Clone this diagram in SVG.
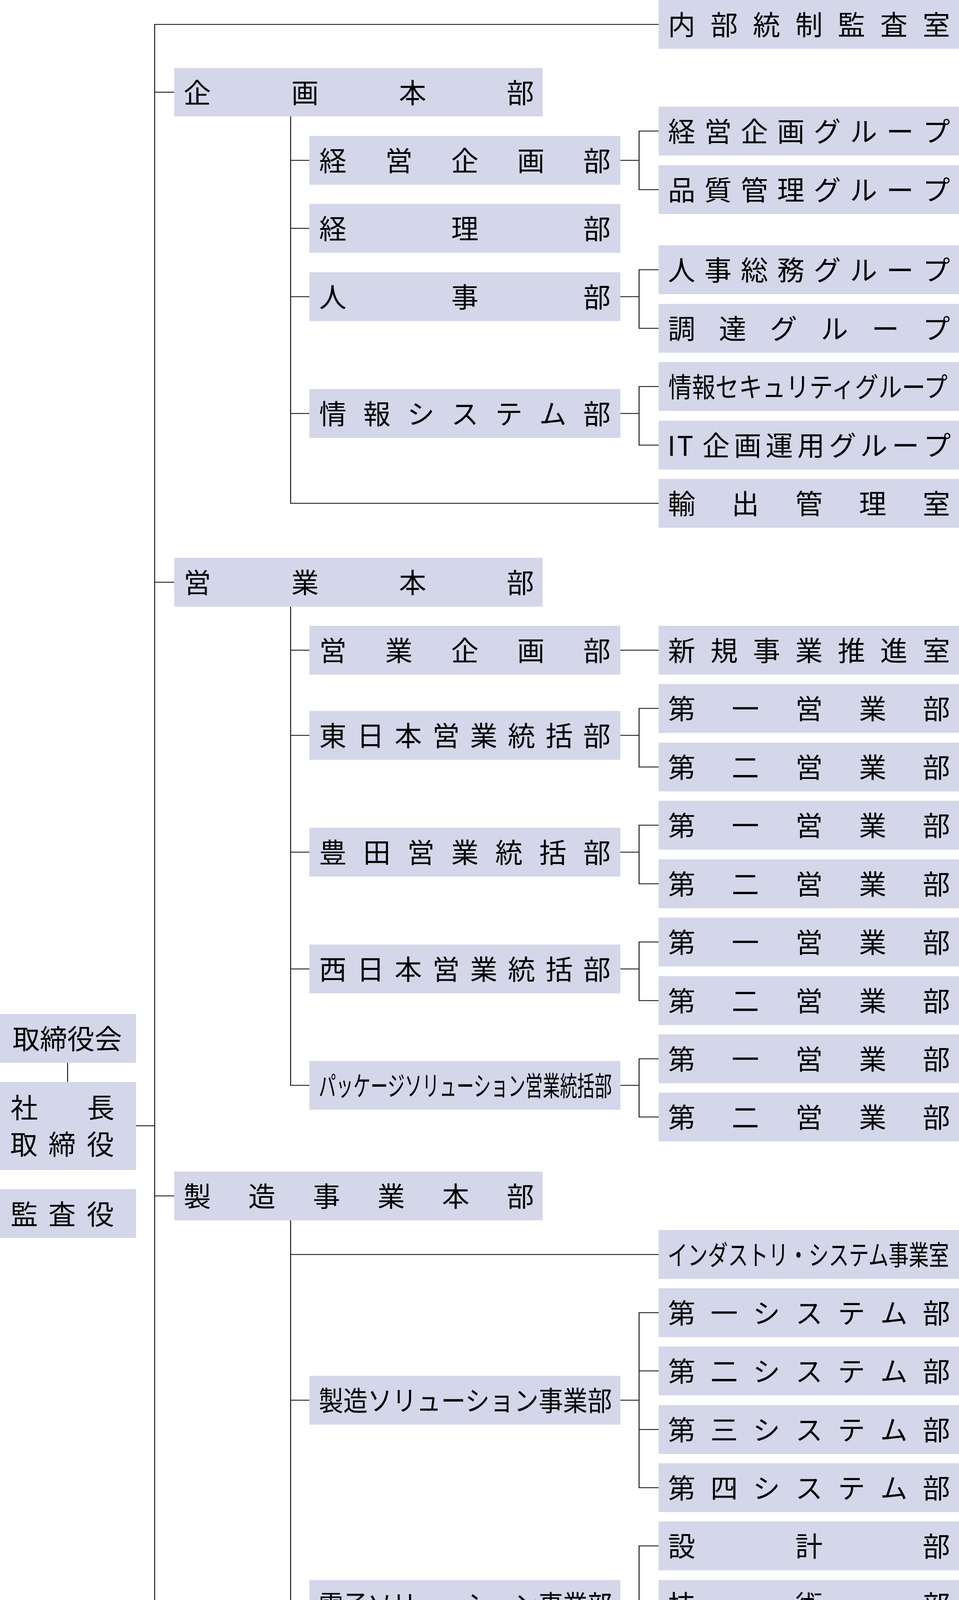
<svg xmlns="http://www.w3.org/2000/svg" width="2455" height="5766" viewBox="0 0 2455 5766">
<style>
.b{fill:#d4d6e9}
.t{font-family:"Noto Sans CJK JP","Noto Sans CJK SC",sans-serif;font-size:70px;fill:#000}
.m{text-anchor:middle}
.c{fill:none;stroke:#000;stroke-width:2.2}
</style>
<rect width="2455" height="5766" fill="#fff"/>
<g id="connectors" class="c">
<path d="M1686,62.5H396V5554.5H792M396,236H446M396,1490.5H446M348,2882H396M396,3061.5H446M396,4458H446M173,2721V2770"/>
<path d="M744,298V1288.5H1686M744,410.5H792M744,584.5H792M744,759.5H792M744,1058.5H792"/>
<path d="M1588,410.5H1636M1686,335.5H1636V485.5H1686M1588,759.5H1636M1686,690.5H1636V840.5H1686M1588,1058.5H1636M1686,989.5H1636V1139.5H1686"/>
<path d="M744,1553V2778.5H792M744,1664.5H792M744,1882.5H792M744,2181.5H792M744,2480.5H792M1588,1664.5H1686"/>
<path d="M1588,1882.5H1636M1686,1813.5H1636V1963.5H1686M1588,2181.5H1636M1686,2112.5H1636V2262.5H1686M1588,2480.5H1636M1686,2411.5H1636V2561.5H1686M1588,2778.5H1636M1686,2710.5H1636V2859.5H1686"/>
<path d="M744,3124V4107.5H792M744,3211.5H1686M744,3584.5H792"/>
<path d="M1588,3584.5H1636M1686,3360.5H1636V3808.5H1686M1636,3509.5H1686M1636,3659.5H1686M1588,4107.5H1686M1686,3957.5H1636V4256.5H1686"/>
<path d="M744,4521V5180.5H792M744,4732.5H792"/>
<path d="M1588,4732.5H1636M1686,4508.5H1636V4956.5H1686M1636,4657.5H1686M1636,4807.5H1686M1588,5180.5H1636M1686,5106.5H1636V5255.5H1686M1588,5554.5H1686M1686,5404.5H1636V5703.5H1686"/>
</g>

<g id="torishimariyakukai"><rect class="b" x="0" y="2596" width="348" height="125"/><text class="t m" x="172" y="2686">取締役会</text></g>
<g id="shacho"><rect class="b" x="0" y="2770" width="348" height="225"/><text class="t m" x="62 258" y="2862">社長</text><text class="t m" x="61 159 257" y="2956">取締役</text></g>
<g id="kansayaku"><rect class="b" x="0" y="3044" width="348" height="125"/><text class="t m" x="62 159 257" y="3135">監査役</text></g>

<g id="naibu"><rect class="b" x="1686" y="0" width="769" height="125"/><text class="t m" x="1745 1853.7 1962.3 2071 2179.7 2288.3 2397" y="90">内部統制監査室</text></g>

<g id="kikaku-honbu"><rect class="b" x="446" y="174" width="943" height="124"/><text class="t m" x="505 780.7 1056.3 1332" y="264">企画本部</text></g>
<g id="keiei-kikaku-bu"><rect class="b" x="792" y="348" width="796" height="125"/><text class="t m" x="852 1021 1190 1359 1528" y="438">経営企画部</text></g>
<g id="keiei-kikaku-g"><rect class="b" x="1686" y="273" width="769" height="125"/><text class="t m" x="1745 1838.1 1931.3 2024.4 2117.6 2210.7 2303.9 2397" y="363">経営企画グループ</text></g>
<g id="hinshitsu-kanri-g"><rect class="b" x="1686" y="423" width="769" height="125"/><text class="t m" x="1745 1838.1 1931.3 2024.4 2117.6 2210.7 2303.9 2397" y="513">品質管理グループ</text></g>
<g id="keiri-bu"><rect class="b" x="792" y="522" width="796" height="125"/><text class="t m" x="852 1190 1528" y="612">経理部</text></g>
<g id="jinji-bu"><rect class="b" x="792" y="697" width="796" height="125"/><text class="t m" x="852 1190 1528" y="787">人事部</text></g>
<g id="jinji-somu-g"><rect class="b" x="1686" y="628" width="769" height="125"/><text class="t m" x="1745 1838.1 1931.3 2024.4 2117.6 2210.7 2303.9 2397" y="718">人事総務グループ</text></g>
<g id="chotatsu-g"><rect class="b" x="1686" y="778" width="769" height="125"/><text class="t m" x="1745 1875.4 2005.8 2136.2 2266.6 2397" y="868">調達グループ</text></g>
<g id="joho-system-bu"><rect class="b" x="792" y="996" width="796" height="125"/><text class="t m" x="852 964.7 1077.3 1190 1302.7 1415.3 1528" y="1086">情報システム部</text></g>
<g id="joho-security-g"><rect class="b" x="1686" y="927" width="769" height="125"/><text class="t" transform="translate(1711 1017) scale(0.8595 1)">情報セキュリティグループ</text></g>
<g id="it-kikaku-g"><rect class="b" x="1686" y="1077" width="769" height="125"/><text class="t m" x="1719 1754 1833 1914 1995 2076 2157 2237 2318 2399" y="1167">IT企画運用グループ</text></g>
<g id="yushutsu"><rect class="b" x="1686" y="1226" width="769" height="125"/><text class="t m" x="1745 1908 2071 2234 2397" y="1316">輸出管理室</text></g>

<g id="eigyo-honbu"><rect class="b" x="446" y="1428" width="943" height="125"/><text class="t m" x="505 780.7 1056.3 1332" y="1518">営業本部</text></g>
<g id="eigyo-kikaku-bu"><rect class="b" x="792" y="1602" width="796" height="125"/><text class="t m" x="852 1021 1190 1359 1528" y="1692">営業企画部</text></g>
<g id="shinki"><rect class="b" x="1686" y="1602" width="769" height="125"/><text class="t m" x="1745 1853.7 1962.3 2071 2179.7 2288.3 2397" y="1692">新規事業推進室</text></g>
<g id="higashi"><rect class="b" x="792" y="1820" width="796" height="125"/><text class="t m" x="852 948.6 1045.1 1141.7 1238.3 1334.9 1431.4 1528" y="1910">東日本営業統括部</text></g>
<g id="higashi-1"><rect class="b" x="1686" y="1751" width="769" height="125"/><text class="t m" x="1745 1908 2071 2234 2397" y="1841">第一営業部</text></g>
<g id="higashi-2"><rect class="b" x="1686" y="1901" width="769" height="125"/><text class="t m" x="1745 1908 2071 2234 2397" y="1991">第二営業部</text></g>
<g id="toyota"><rect class="b" x="792" y="2119" width="796" height="125"/><text class="t m" x="852 964.7 1077.3 1190 1302.7 1415.3 1528" y="2209">豊田営業統括部</text></g>
<g id="toyota-1"><rect class="b" x="1686" y="2050" width="769" height="125"/><text class="t m" x="1745 1908 2071 2234 2397" y="2140">第一営業部</text></g>
<g id="toyota-2"><rect class="b" x="1686" y="2200" width="769" height="125"/><text class="t m" x="1745 1908 2071 2234 2397" y="2290">第二営業部</text></g>
<g id="nishi"><rect class="b" x="792" y="2418" width="796" height="125"/><text class="t m" x="852 948.6 1045.1 1141.7 1238.3 1334.9 1431.4 1528" y="2508">西日本営業統括部</text></g>
<g id="nishi-1"><rect class="b" x="1686" y="2349" width="769" height="125"/><text class="t m" x="1745 1908 2071 2234 2397" y="2439">第一営業部</text></g>
<g id="nishi-2"><rect class="b" x="1686" y="2499" width="769" height="125"/><text class="t m" x="1745 1908 2071 2234 2397" y="2589">第二営業部</text></g>
<g id="package-eigyo"><rect class="b" x="792" y="2716" width="796" height="125"/><text class="t" transform="translate(816 2806) scale(0.6319 1)">パッケージソリューション営業統括部</text></g>
<g id="package-1"><rect class="b" x="1686" y="2648" width="769" height="125"/><text class="t m" x="1745 1908 2071 2234 2397" y="2738">第一営業部</text></g>
<g id="package-2"><rect class="b" x="1686" y="2797" width="769" height="125"/><text class="t m" x="1745 1908 2071 2234 2397" y="2887">第二営業部</text></g>

<g id="seizo-honbu"><rect class="b" x="446" y="2999" width="943" height="125"/><text class="t m" x="505 670.4 835.8 1001.2 1166.6 1332" y="3089">製造事業本部</text></g>
<g id="industry"><rect class="b" x="1686" y="3149" width="769" height="125"/><text class="t" transform="translate(1709 3239) scale(0.7367 1)">インダストリ・システム事業室</text></g>
<g id="seizo-sol"><rect class="b" x="792" y="3522" width="796" height="125"/><text class="t" transform="translate(816 3612) scale(0.8952 1)">製造ソリューション事業部</text></g>
<g id="seizo-1"><rect class="b" x="1686" y="3298" width="769" height="125"/><text class="t m" x="1745 1853.7 1962.3 2071 2179.7 2288.3 2397" y="3388">第一システム部</text></g>
<g id="seizo-2"><rect class="b" x="1686" y="3447" width="769" height="125"/><text class="t m" x="1745 1853.7 1962.3 2071 2179.7 2288.3 2397" y="3537">第二システム部</text></g>
<g id="seizo-3"><rect class="b" x="1686" y="3597" width="769" height="125"/><text class="t m" x="1745 1853.7 1962.3 2071 2179.7 2288.3 2397" y="3687">第三システム部</text></g>
<g id="seizo-4"><rect class="b" x="1686" y="3746" width="769" height="125"/><text class="t m" x="1745 1853.7 1962.3 2071 2179.7 2288.3 2397" y="3836">第四システム部</text></g>
<g id="denshi-sol"><rect class="b" x="792" y="4045" width="796" height="125"/><text class="t" transform="translate(816 4135) scale(0.8952 1)">電子ソリューション事業部</text></g>
<g id="sekkei"><rect class="b" x="1686" y="3895" width="769" height="125"/><text class="t m" x="1745 2071 2397" y="3985">設計部</text></g>
<g id="gijutsu"><rect class="b" x="1686" y="4045" width="769" height="125"/><text class="t m" x="1745 2071 2397" y="4135">技術部</text></g>
<g id="hinshitsu-hosho"><rect class="b" x="1686" y="4194" width="769" height="125"/><text class="t m" x="1745 1908 2071 2234 2397" y="4284">品質保証部</text></g>

<g id="business-honbu"><rect class="b" x="446" y="4396" width="943" height="125"/><text class="t m" x="505 623.1 741.3 859.4 977.6 1095.7 1213.9 1332" y="4486">ビジネス事業本部</text></g>
<g id="business-sol"><rect class="b" x="792" y="4670" width="796" height="125"/><text class="t" transform="translate(816 4760) scale(0.7673 1)">ビジネスソリューション事業部</text></g>
<g id="biz-1"><rect class="b" x="1686" y="4446" width="769" height="125"/><text class="t m" x="1745 1853.7 1962.3 2071 2179.7 2288.3 2397" y="4536">第一システム部</text></g>
<g id="biz-2"><rect class="b" x="1686" y="4595" width="769" height="125"/><text class="t m" x="1745 1853.7 1962.3 2071 2179.7 2288.3 2397" y="4685">第二システム部</text></g>
<g id="energy"><rect class="b" x="1686" y="4745" width="769" height="125"/><text class="t m" x="1745 1817.4 1889.9 1962.3 2034.8 2107.2 2179.7 2252.1 2324.6 2397" y="4835">エネルギーシステム部</text></g>
<g id="erp"><rect class="b" x="1686" y="4894" width="769" height="125"/><text class="t m" x="1733 1815 1894 1984 2086 2188 2289 2396" y="4984">ERPシステム部</text></g>
<g id="package-sol"><rect class="b" x="792" y="5118" width="796" height="125"/><text class="t" transform="translate(816 5208) scale(0.7162 1)">パッケージソリューション事業部</text></g>
<g id="htm"><rect class="b" x="1686" y="5044" width="769" height="125"/><text class="t m" x="1737 1818 1906 2006 2101 2198 2294 2396" y="5134">HTMシステム部</text></g>
<g id="seiyaku"><rect class="b" x="1686" y="5193" width="769" height="125"/><text class="t m" x="1745 1853.7 1962.3 2071 2179.7 2288.3 2397" y="5283">製薬システム部</text></g>
<g id="kiban"><rect class="b" x="792" y="5492" width="796" height="125"/><text class="t m" x="852 936.5 1021 1105.5 1190 1274.5 1359 1443.5 1528" y="5582">基盤サービス事業部</text></g>
<g id="project"><rect class="b" x="1686" y="5342" width="769" height="125"/><text class="t m" x="1745 1853.7 1962.3 2071 2179.7 2288.3 2397" y="5432">プロジェクト室</text></g>
<g id="it-1"><rect class="b" x="1686" y="5492" width="769" height="125"/><text class="t m" x="1745 1837 1905 1962 2043 2131 2220 2308 2396" y="5582">第一ITサービス部</text></g>
<g id="it-2"><rect class="b" x="1686" y="5641" width="769" height="125"/><text class="t m" x="1745 1837 1905 1962 2043 2131 2220 2308 2396" y="5731">第二ITサービス部</text></g>
</svg>
